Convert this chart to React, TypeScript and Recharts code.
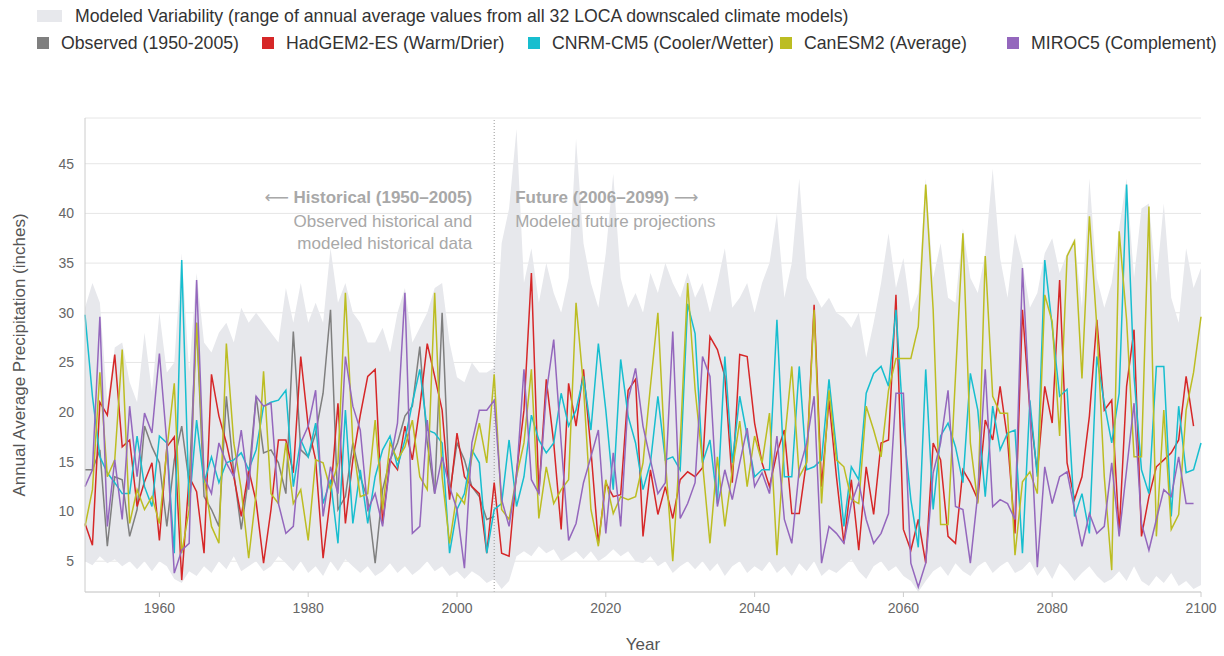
import React from "react";
import {
  Area,
  CartesianGrid,
  ComposedChart,
  Label,
  Line,
  ReferenceLine,
  XAxis,
  YAxis,
} from "recharts";

const FONT = '"Liberation Sans", Arial, Helvetica, sans-serif';

const START_YEAR = 1950;
const END_YEAR = 2100;
const X_TICKS = [1960, 1980, 2000, 2020, 2040, 2060, 2080, 2100];
const Y_TICKS = [5, 10, 15, 20, 25, 30, 35, 40, 45];

// 1950-2005
const observed = [
  14.2, 14.2, 16.2, 6.5, 13.5, 13.2, 7.5, 10.2, 18.6, 16.5,
  14.9, 8.5, 15.2, 18.6, 12.9, 29.0, 11.5, 10.2, 8.5, 21.6,
  13.9, 8.2, 13.5, 21.6, 15.9, 16.2, 14.9, 11.8, 28.1, 16.2,
  15.5, 17.9, 21.9, 30.3, 10.2, 11.5, 16.9, 13.5, 11.2, 4.8,
  12.2, 15.2, 16.9, 19.6, 20.6, 26.6, 16.9, 11.8, 30.0, 11.8,
  16.9, 15.2, 12.5, 11.5, 9.2, 9.5,
];

// 1950-2099
const hadgem = [
  8.8, 6.6, 21.0, 19.7, 25.8, 16.5, 17.2, 10.5, 13.0, 14.9,
  7.1, 16.5, 17.5, 3.1, 13.5, 12.0, 5.8, 23.8, 19.6, 16.9,
  13.5, 9.5, 14.2, 11.0, 4.8, 10.2, 17.2, 17.2, 13.9, 25.6,
  18.6, 15.2, 5.3, 11.5, 20.9, 8.8, 15.2, 19.7, 23.6, 24.3,
  8.8, 15.2, 14.2, 18.6, 15.2, 20.5, 26.9, 23.6, 20.2, 11.2,
  17.9, 13.5, 12.5, 11.8, 5.8, 12.9, 5.8, 5.5, 13.9, 20.2,
  34.0, 11.8, 23.3, 16.9, 8.2, 22.9, 18.6, 24.3, 16.2, 6.8,
  12.9, 11.5, 11.7, 22.2, 23.3, 7.5, 14.2, 9.7, 12.5, 9.3,
  13.2, 14.0, 13.5, 14.4, 27.6, 26.3, 23.6, 12.9, 25.8, 25.6,
  18.9, 14.9, 12.5, 15.9, 18.2, 9.8, 9.8, 15.2, 30.8, 12.5,
  21.2, 13.5, 6.8, 13.2, 6.1, 14.5, 9.7, 16.9, 17.2, 31.8,
  8.2, 6.1, 9.2, 4.8, 16.9, 15.2, 7.5, 6.8, 14.2, 12.9,
  11.2, 19.2, 17.2, 22.6, 17.2, 7.8, 30.3, 20.2, 13.9, 22.6,
  18.9, 33.3, 14.9, 11.2, 13.5, 19.6, 29.3, 20.2, 21.2, 7.8,
  22.6, 28.3, 7.5, 11.5, 14.5, 15.2, 15.9, 17.2, 23.6, 18.6,
];

// 1950-2100
const cnrm = [
  29.8, 21.6, 15.5, 13.9, 12.9, 11.8, 11.8, 17.6, 12.5, 10.5,
  17.6, 16.9, 5.8, 35.3, 10.5, 19.2, 12.9, 15.5, 12.9, 14.9,
  15.2, 15.9, 14.2, 16.2, 20.6, 21.0, 21.2, 22.2, 12.5, 17.2,
  15.5, 18.9, 10.8, 13.2, 6.8, 20.2, 8.8, 14.2, 8.8, 13.5,
  16.2, 17.6, 14.5, 17.2, 20.9, 24.3, 18.2, 17.9, 16.9, 5.8,
  10.2, 11.8, 16.2, 14.9, 5.8, 10.2, 10.8, 17.2, 10.5, 13.5,
  19.7, 17.2, 15.9, 16.9, 21.9, 18.6, 20.2, 23.6, 18.2, 26.9,
  20.2, 12.2, 25.3, 19.6, 16.9, 12.2, 14.9, 21.6, 15.2, 15.5,
  14.2, 30.9, 27.9, 14.9, 17.2, 10.8, 25.6, 14.9, 21.6, 17.6,
  13.5, 14.2, 14.2, 29.3, 13.5, 13.5, 24.6, 14.2, 14.5, 15.2,
  23.3, 16.2, 8.5, 14.5, 13.2, 21.9, 23.9, 24.6, 22.6, 30.3,
  18.6, 11.2, 6.4, 24.3, 10.2, 17.6, 18.9, 16.5, 12.9, 23.9,
  20.2, 11.5, 20.6, 16.2, 17.9, 18.2, 5.8, 21.2, 13.5, 35.3,
  28.6, 21.6, 22.3, 9.5, 11.8, 7.8, 25.6, 20.9, 16.9, 21.9,
  42.9, 23.6, 14.2, 11.8, 24.6, 24.6, 9.5, 20.6, 13.9, 14.2,
  16.9,
];

// 1950-2100
const canesm = [
  8.5, 12.2, 24.0, 13.5, 15.2, 26.3, 8.8, 12.2, 10.2, 11.5,
  8.8, 16.2, 22.9, 5.8, 10.2, 29.0, 13.5, 8.5, 6.8, 26.9,
  16.9, 12.2, 5.3, 11.8, 24.1, 11.8, 10.8, 16.9, 10.8, 12.2,
  7.1, 15.2, 14.9, 12.2, 14.9, 32.0, 16.9, 11.5, 11.8, 19.2,
  10.2, 16.9, 15.2, 16.5, 19.2, 13.5, 12.2, 32.0, 13.5, 6.8,
  11.8, 10.8, 15.5, 18.9, 14.9, 23.8, 10.2, 9.2, 13.5, 16.9,
  24.3, 9.3, 14.5, 10.8, 12.2, 13.2, 31.0, 22.6, 10.2, 6.5,
  13.2, 9.8, 11.5, 11.2, 11.5, 14.9, 22.6, 30.0, 15.2, 5.0,
  16.9, 33.0, 22.3, 14.9, 6.8, 15.5, 8.5, 14.2, 19.1, 12.5,
  17.6, 14.9, 19.9, 5.6, 16.9, 24.6, 13.5, 14.9, 30.3, 10.8,
  22.2, 15.2, 14.5, 11.2, 10.8, 20.6, 18.2, 15.5, 22.2, 25.4,
  25.4, 25.4, 28.6, 42.9, 30.3, 8.7, 8.7, 23.6, 38.0, 16.9,
  10.8, 35.7, 21.6, 19.9, 19.9, 5.6, 13.0, 14.0, 11.8, 31.8,
  29.1, 17.6, 35.7, 37.2, 23.4, 39.7, 28.6, 13.5, 4.1, 38.2,
  29.3, 15.5, 15.5, 40.7, 7.5, 20.2, 8.2, 9.7, 20.2, 24.0,
  29.6,
];

// 1950-2099
const miroc = [
  12.5, 14.2, 29.6, 8.5, 15.2, 9.2, 20.6, 13.5, 19.9, 17.9,
  25.9, 16.9, 3.8, 6.1, 6.8, 33.3, 13.5, 11.8, 16.9, 14.9,
  13.5, 18.2, 12.2, 21.6, 20.6, 20.9, 10.8, 7.8, 8.5, 16.9,
  18.6, 22.2, 9.5, 14.5, 11.8, 25.6, 20.6, 18.2, 10.2, 11.8,
  8.5, 14.9, 18.9, 32.0, 7.8, 8.5, 19.2, 11.8, 15.5, 12.5,
  10.2, 4.3, 16.9, 20.2, 20.2, 21.2, 11.2, 8.5, 13.5, 24.3,
  13.2, 11.8, 21.9, 27.3, 16.9, 7.1, 8.8, 12.9, 15.5, 18.2,
  7.8, 15.9, 8.5, 21.2, 24.4, 18.6, 15.2, 11.8, 12.9, 28.1,
  9.3, 10.8, 12.9, 25.6, 23.6, 10.5, 14.2, 11.2, 14.9, 18.4,
  12.5, 13.9, 11.8, 17.6, 9.2, 6.8, 14.2, 16.9, 21.6, 4.8,
  8.5, 7.8, 6.8, 10.8, 12.9, 9.2, 6.8, 7.8, 9.8, 21.9,
  21.9, 4.8, 2.4, 4.8, 13.9, 16.9, 22.2, 10.5, 10.2, 4.8,
  11.8, 24.3, 10.5, 11.2, 10.8, 9.2, 34.5, 20.2, 4.4, 14.5,
  10.8, 13.5, 14.0, 10.2, 6.5, 9.8, 7.8, 8.5, 14.9, 7.5,
  14.2, 20.9, 8.8, 6.1, 9.2, 12.2, 11.5, 15.5, 10.8, 10.8,
];

// modeled variability envelope, 1950-2100
const rangeHigh = [
  30.5, 33.0, 31.0, 21.0, 26.5, 27.0, 23.0, 21.0, 28.0, 22.0,
  30.0, 24.0, 25.0, 36.0, 24.0, 34.0, 27.0, 26.0, 28.0, 29.0,
  27.0, 30.5, 29.0, 30.0, 29.0, 28.0, 27.0, 32.5, 29.0, 33.0,
  29.0, 31.0, 29.0, 36.5, 31.0, 33.0, 30.0, 29.0, 27.0, 27.0,
  28.5, 26.0, 30.0, 32.5, 27.0, 28.5, 30.0, 32.5, 33.0, 27.0,
  23.5, 23.0, 25.0, 24.0, 24.0, 24.5, 37.0, 40.5, 48.5, 33.0,
  36.5, 31.0, 35.0, 32.0, 30.0, 33.5, 47.5, 37.0, 33.0, 30.5,
  36.0, 44.0, 33.5, 30.5, 32.0, 30.0, 34.0, 32.0, 35.0, 33.0,
  31.5, 34.0, 31.5, 33.0, 30.0, 33.0, 36.5, 30.5, 31.5, 33.0,
  30.0, 33.0, 35.0, 40.0, 31.5, 35.0, 43.5, 33.5, 32.0, 30.5,
  31.5, 30.0, 29.5, 28.5, 30.0, 25.5, 29.0, 33.0, 38.0, 32.5,
  35.5, 30.0, 32.0, 43.5, 33.5, 37.0, 31.5, 31.0, 38.5, 33.5,
  32.0, 36.0, 44.5, 35.5, 31.5, 38.0, 35.0, 30.5, 32.0, 36.0,
  37.5, 34.0, 36.0, 37.5, 30.5, 43.5, 33.5, 30.5, 33.0, 38.5,
  43.5, 33.5, 40.5, 41.0, 33.0, 41.0, 31.5, 29.0, 36.5, 32.5,
  34.5,
];

const rangeLow = [
  5.0, 4.6, 5.5, 4.8, 5.2, 4.5, 5.0, 4.2, 5.0, 4.0,
  5.0, 4.5, 3.2, 2.8, 4.0, 3.5, 4.5, 3.8, 5.0, 4.2,
  5.5, 4.0, 4.5, 5.0, 4.0, 4.5, 5.5, 4.8, 4.0, 5.0,
  3.8, 4.5, 3.5, 5.0, 4.0, 5.2, 4.5, 3.8, 4.5, 3.5,
  4.0, 4.8, 3.8, 4.5, 3.6, 4.2, 5.0, 4.0, 4.5, 3.5,
  4.0, 3.2, 4.0, 3.5, 2.8, 3.2, 2.2, 3.0, 5.5, 6.0,
  5.5, 6.5, 5.8, 6.2, 5.0, 5.5, 6.0, 5.2, 6.0, 5.0,
  5.5, 6.2, 5.5, 6.0, 5.0, 4.8, 5.5, 4.5, 5.0, 3.8,
  4.5, 5.0, 4.2, 5.0, 4.0, 4.8, 3.5, 4.5, 5.0, 3.8,
  4.5, 4.0, 5.0, 3.8, 4.5, 3.5, 4.8, 4.0, 5.0, 3.5,
  4.2, 3.8, 4.5, 5.2, 4.0, 3.2, 4.5, 5.0, 4.0, 4.5,
  3.5, 3.0, 1.9, 3.0, 4.0, 4.5, 3.5, 4.8, 4.0, 3.5,
  4.5, 5.0, 3.8, 4.5, 5.0, 3.8, 4.2, 5.0, 3.5, 4.5,
  3.2, 4.8, 4.0, 3.0, 3.8, 4.5, 3.5, 2.8, 3.2, 4.0,
  3.0, 4.5, 3.0, 2.5, 3.5, 2.8, 3.8, 2.5, 3.0, 2.2,
  2.6,
];

const SERIES = [
  { key: "observed", name: "Observed (1950-2005)", color: "#7f7f7f", values: observed },
  { key: "hadgem", name: "HadGEM2-ES (Warm/Drier)", color: "#d62728", values: hadgem },
  { key: "cnrm", name: "CNRM-CM5 (Cooler/Wetter)", color: "#17becf", values: cnrm },
  { key: "canesm", name: "CanESM2 (Average)", color: "#bcbd22", values: canesm },
  { key: "miroc", name: "MIROC5 (Complement)", color: "#9467bd", values: miroc },
];
const RANGE_NAME =
  "Modeled Variability (range of annual average values from all 32 LOCA downscaled climate models)";
const RANGE_COLOR = "#e7e8ec";

const data = [];
for (let i = 0; i <= END_YEAR - START_YEAR; i++) {
  const row: any = { year: START_YEAR + i, range: [rangeLow[i], rangeHigh[i]] };
  SERIES.forEach((s) => {
    row[s.key] = i < s.values.length ? s.values[i] : null;
  });
  data.push(row);
}

const LEGEND_X = [37, 262, 528, 780, 1007];
const LEGEND_FONT = 17.7;

function PeriodNote(props: any) {
  const { x, y } = props.viewBox;
  return (
    <g fontFamily={FONT} fontSize={17} fill="#a8a8a8">
      <text x={x - 22} y={y + 85} textAnchor="end" fontWeight="bold">
        <tspan fontWeight="normal" fontFamily="DejaVu Sans">⟵</tspan> Historical (1950–2005)
      </text>
      <text x={x - 22} y={y + 109} textAnchor="end">
        Observed historical and
      </text>
      <text x={x - 22} y={y + 131} textAnchor="end">
        modeled historical data
      </text>
      <text x={x + 21} y={y + 85} fontWeight="bold">
        Future (2006–2099) <tspan fontWeight="normal" fontFamily="DejaVu Sans">⟶</tspan>
      </text>
      <text x={x + 21} y={y + 109}>
        Modeled future projections
      </text>
    </g>
  );
}

export default function App() {
  const tick = { fontSize: 14, fill: "#666", fontFamily: FONT };
  return (
    <div
      style={{
        position: "absolute",
        left: 0,
        top: 0,
        width: 1224,
        height: 656,
        background: "#fff",
        fontFamily: FONT,
        color: "#333",
      }}
    >
      {/* legend */}
      <div style={{ position: "absolute", left: 37, top: 10, width: 25, height: 12, background: RANGE_COLOR }} />
      <div
        style={{
          position: "absolute",
          left: 75,
          top: 6,
          fontSize: LEGEND_FONT,
          lineHeight: "20px",
          whiteSpace: "nowrap",
        }}
      >
        {RANGE_NAME}
      </div>
      {SERIES.map((s, i) => (
        <React.Fragment key={s.key}>
          <div
            style={{
              position: "absolute",
              left: LEGEND_X[i],
              top: 37,
              width: 12,
              height: 12,
              background: s.color,
            }}
          />
          <div
            style={{
              position: "absolute",
              left: LEGEND_X[i] + 24,
              top: 33,
              fontSize: LEGEND_FONT,
              lineHeight: "20px",
              whiteSpace: "nowrap",
            }}
          >
            {s.name}
          </div>
        </React.Fragment>
      ))}

      {/* y axis title */}
      <div
        style={{
          position: "absolute",
          left: 20,
          top: 355,
          transform: "translate(-50%, -50%) rotate(-90deg)",
          fontSize: 17,
          color: "#555",
          whiteSpace: "nowrap",
        }}
      >
        Annual Average Precipitation (inches)
      </div>

      <div style={{ position: "absolute", left: 0, top: 0 }}>
        <ComposedChart
          width={1224}
          height={656}
          data={data}
          margin={{ top: 118, right: 23, bottom: 4, left: 10 }}
        >
          <CartesianGrid vertical={false} stroke="#e6e6e6" />
          <XAxis
            dataKey="year"
            type="number"
            domain={[START_YEAR, END_YEAR]}
            ticks={X_TICKS}
            height={60}
            tick={tick}
            tickSize={5}
            tickMargin={6}
            axisLine={{ stroke: "#ccc" }}
            tickLine={{ stroke: "#ccc" }}
          >
            <Label
              value="Year"
              position="insideBottom"
              offset={2}
              style={{ fontSize: 17, fill: "#555", fontFamily: FONT }}
            />
          </XAxis>
          <YAxis
            type="number"
            domain={[1.9, 49.6]}
            ticks={Y_TICKS}
            allowDataOverflow
            width={75}
            tick={tick}
            tickLine={false}
            tickSize={0}
            tickMargin={11}
            axisLine={{ stroke: "#ccc" }}
          />
          <Area
            type="linear"
            dataKey="range"
            name={RANGE_NAME}
            fill={RANGE_COLOR}
            fillOpacity={1}
            stroke="none"
            isAnimationActive={false}
          />
          <ReferenceLine
            x={2005}
            stroke="#999"
            strokeDasharray="1 2"
            label={<PeriodNote />}
          />
          {SERIES.map((s) => (
            <Line
              key={s.key}
              type="linear"
              dataKey={s.key}
              name={s.name}
              stroke={s.color}
              strokeWidth={1.5}
              dot={false}
              activeDot={false}
              connectNulls={false}
              isAnimationActive={false}
            />
          ))}
        </ComposedChart>
      </div>
    </div>
  );
}
